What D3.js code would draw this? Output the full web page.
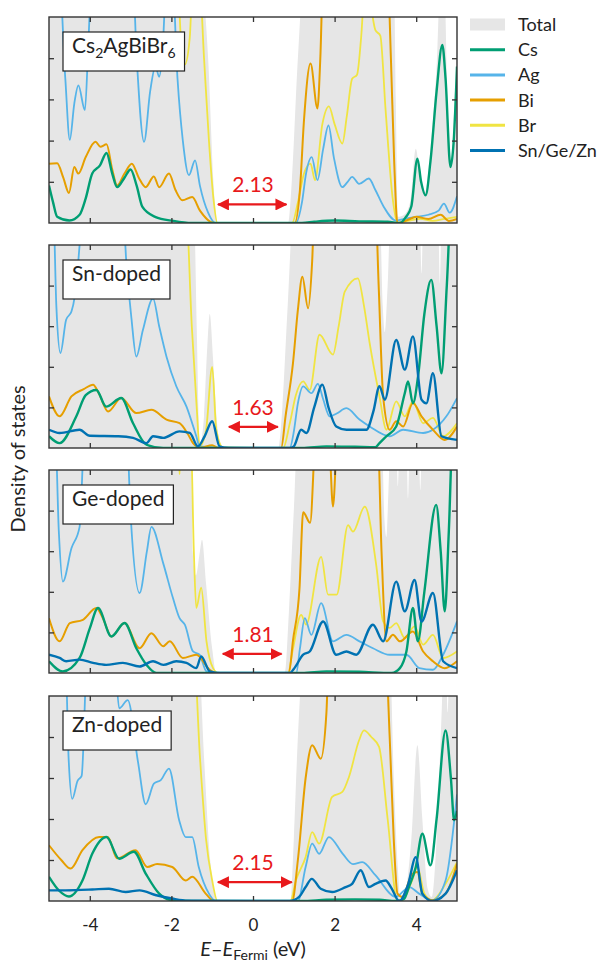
<!DOCTYPE html>
<html><head><meta charset="utf-8">
<script src="https://cdn.jsdelivr.net/npm/d3@7"></script>
<style>
body{margin:0;background:#fff}
svg{display:block}
text{font-family:Lato,"Open Sans",sans-serif;fill:#222}
</style>
</head><body>
<svg id="c" width="600" height="962"></svg>
<script>
// ---------- DATA (energy eV, DOS arbitrary units; values >5 run off the top) ----------
const xTicks = [-4, -2, 0, 2, 4];
const yTicks = [1, 2, 3, 4];
const legendNames = ["Total", "Cs", "Ag", "Bi", "Br", "Sn/Ge/Zn"];
const panelNames = ["Cs2AgBiBr6", "Sn-doped", "Ge-doped", "Zn-doped"];
const gapValues = ["2.13", "1.63", "1.81", "2.15"];
const gapStart = [-0.86, -0.59, -0.74, -0.86];
const gapEnd = [0.82, 0.61, 0.70, 0.95];
const gapLevel = [0.45, 0.52, 0.47, 0.46];

// Panel 1: pristine Cs2AgBiBr6
const tot1 = [[-5,6],[-1.3,6],[-1.1,4],[-0.97,1],[-0.88,0],[0.86,0],[0.95,1],[1.1,4],[1.25,6],[3.45,6],[3.5,3],[3.56,0.15],[3.7,0.2],[3.85,0.5],[3.99,1.8],[4.1,1.1],[4.22,0.75],[4.35,1.8],[4.5,3.8],[4.6,6],[4.68,6],[4.78,2.5],[4.86,1.5],[4.95,3.2],[5,4.2]];
const ag1 = [[-5,6],[-4.75,6],[-4.6,3.5],[-4.49,2.02],[-4.38,2.9],[-4.28,3.34],[-4.12,2.74],[-4.03,4.5],[-3.95,6],[-2.95,6],[-2.85,4],[-2.67,1.97],[-2.52,3.2],[-2.39,3.8],[-2.3,3.55],[-2.2,4.5],[-2.12,6],[-1.98,6],[-1.85,3.5],[-1.72,2],[-1.57,1.16],[-1.42,1.52],[-1.3,0.9],[-1.1,0.25],[-0.92,0],[1.05,0],[1.2,0.5],[1.3,1.2],[1.44,1.6],[1.58,1.04],[1.72,1.8],[1.85,2.37],[1.98,1.6],[2.19,0.87],[2.32,1.0],[2.43,1.12],[2.6,0.95],[2.84,1.08],[3.0,0.8],[3.2,0.4],[3.5,0.06],[3.8,0.12],[4.0,0.15],[4.3,0.2],[4.55,0.3],[4.68,0.47],[4.82,0.25],[5,0.65]];
const bi1 = [[-5,1.44],[-4.8,1.45],[-4.65,1.1],[-4.51,0.73],[-4.38,1.36],[-4.28,1.2],[-4.1,1.6],[-3.86,1.97],[-3.74,1.85],[-3.59,1.91],[-3.45,1.3],[-3.33,0.91],[-3.15,1.2],[-2.97,1.44],[-2.8,1.1],[-2.63,0.87],[-2.43,1.13],[-2.3,0.87],[-2.06,1.2],[-1.9,0.8],[-1.73,0.55],[-1.49,0.63],[-1.3,0.3],[-0.96,0],[1.02,0],[1.15,0.8],[1.25,2.5],[1.41,3.87],[1.58,2.78],[1.65,4],[1.72,6],[3.3,6],[3.38,4],[3.46,1.5],[3.54,0],[3.8,0.08],[4.0,0.15],[4.3,0.1],[4.6,0.2],[4.8,0.05],[5,0.1]];
const br1 = [[-5,6],[-1.85,6],[-1.77,4.5],[-1.67,3.85],[-1.55,4.5],[-1.47,6],[-1.32,6],[-1.2,4],[-1.08,2],[-0.97,0.6],[-0.87,0],[0.96,0],[1.1,0.5],[1.25,1.2],[1.41,1.44],[1.52,1.04],[1.7,2.4],[1.86,2.83],[2.0,2.4],[2.19,1.93],[2.3,2.6],[2.43,3.5],[2.55,3.6],[2.65,4.5],[2.76,6],[2.9,5.2],[3.0,4.68],[3.12,4.55],[3.25,2.74],[3.42,0.63],[3.54,0],[3.8,0.05],[4.1,0.1],[4.4,0.05],[4.7,0.1],[5,0.15]];
const cs1 = [[-5,0.91],[-4.9,0.5],[-4.8,0.15],[-4.5,0.06],[-4.25,0.2],[-4.1,0.6],[-3.94,1.2],[-3.75,1.4],[-3.59,1.7],[-3.45,1.2],[-3.33,0.87],[-3.15,1.1],[-3.0,1.3],[-2.85,0.9],[-2.71,0.39],[-2.4,0.15],[-1.95,0.05],[-1.5,0],[1.2,0],[1.5,0.03],[2.0,0.06],[2.6,0.04],[3.3,0.03],[3.6,0],[3.75,0.15],[3.88,0.4],[4.03,1.56],[4.12,1.0],[4.23,0.67],[4.35,1.5],[4.5,3.2],[4.64,4.32],[4.72,3.5],[4.84,1.36],[4.92,2.0],[5,3.8]];

// Panel 2: Sn-doped
const tot2 = [[-5,6],[-1.45,6],[-1.38,3],[-1.3,0.1],[-1.2,0.8],[-1.12,2.5],[-1.06,3.3],[-0.98,2.2],[-0.88,0.6],[-0.78,0],[0.62,0],[0.72,1],[0.85,3.5],[1.0,6],[3.1,6],[3.18,3.5],[3.23,2.85],[3.3,4],[3.38,6],[4.08,6],[4.13,4.3],[4.18,6],[4.53,6],[4.58,4.05],[4.63,6],[5,6]];
const ag2 = [[-5,6],[-4.9,6],[-4.82,3.5],[-4.72,2.34],[-4.58,3.16],[-4.45,3.36],[-4.37,3.73],[-4.25,5],[-4.18,6],[-3.2,6],[-3.1,4.5],[-2.98,3.2],[-2.86,2.25],[-2.7,2.9],[-2.45,3.68],[-2.3,3.0],[-2.12,2.25],[-1.88,1.52],[-1.63,1.02],[-1.39,0.29],[-1.31,0.04],[-1.0,0.02],[0.9,0],[1.0,0.4],[1.1,1.1],[1.23,1.52],[1.43,1.35],[1.59,1.58],[1.72,1.2],[1.88,0.78],[2.05,0.85],[2.29,0.98],[2.61,0.7],[2.86,0.53],[3.35,0.29],[3.68,0.45],[4.17,0.37],[4.41,0.45],[4.74,0.78],[5,1.23]];
const bi2 = [[-5,1.27],[-4.74,0.78],[-4.45,1.27],[-4.15,1.45],[-3.92,1.56],[-3.78,1.35],[-3.55,0.9],[-3.23,1.23],[-2.86,0.86],[-2.49,0.94],[-2.12,0.7],[-1.8,0.61],[-1.6,0.35],[-1.47,0.12],[-1.3,0.01],[-1.0,0.07],[-0.85,0],[0.69,0],[0.8,0.8],[0.98,2.09],[1.1,3.4],[1.21,4.22],[1.35,3.44],[1.45,4.6],[1.51,6],[3.0,6],[3.08,4],[3.19,1.27],[3.35,0.45],[3.51,0.66],[3.68,0.53],[3.92,1.11],[4.13,0.78],[4.41,0.45],[4.7,0.2],[5,0.53]];
const br2 = [[-5,6],[-1.65,6],[-1.5,3],[-1.38,1.0],[-1.31,0.04],[-1.15,0.45],[-1.0,2.0],[-0.9,0.45],[-0.74,0.02],[0.74,0],[0.9,0.6],[1.05,1.3],[1.23,1.64],[1.39,1.43],[1.63,2.79],[1.96,2.3],[2.1,3.0],[2.25,3.85],[2.57,4.18],[2.72,3.5],[2.86,2.58],[3.1,1.27],[3.27,0.45],[3.51,1.15],[3.72,0.78],[3.92,1.15],[4.17,0.61],[4.41,0.74],[4.66,0.29],[5,0.61]];
const cs2 = [[-5,0.29],[-4.74,0.12],[-4.33,0.78],[-4.1,1.3],[-3.84,1.43],[-3.6,1.02],[-3.23,1.23],[-2.94,0.61],[-2.61,0.08],[-2.2,0],[1.2,0],[1.8,0.04],[2.5,0.03],[3.0,0.02],[3.1,0.12],[3.27,0.29],[3.51,0.53],[3.72,1.35],[3.8,1.64],[3.92,1.1],[4.05,1.8],[4.2,3.3],[4.37,4.14],[4.5,3.0],[4.62,1.84],[4.75,4],[4.86,6],[5,6]];
const sn2 = [[-5,0.45],[-4.74,0.37],[-4.25,0.45],[-4.0,0.3],[-3.3,0.29],[-2.94,0.25],[-2.61,0.12],[-2.45,0.29],[-2.2,0.25],[-1.8,0.41],[-1.55,0.37],[-1.35,0.04],[-1.18,0.3],[-1.0,0.66],[-0.82,0.04],[-0.6,0],[0.9,0],[1.0,0.04],[1.18,0.45],[1.31,0.37],[1.5,1.0],[1.7,1.56],[1.85,1.0],[2.04,0.53],[2.29,0.45],[2.78,0.45],[2.95,0.9],[3.1,1.52],[3.23,1.19],[3.51,2.66],[3.72,1.93],[3.92,2.75],[4.13,1.19],[4.25,1.1],[4.41,1.84],[4.62,0.29],[5,0.2]];

// Panel 3: Ge-doped
const tot3 = [[-5,6],[-1.52,6],[-1.48,3],[-1.4,2.4],[-1.3,3.0],[-1.25,3.28],[-1.15,2.2],[-1.0,0.6],[-0.9,0],[0.78,0],[0.88,1.5],[1.0,4],[1.1,6],[3.15,6],[3.22,3.8],[3.27,3.35],[3.32,4.5],[3.38,6],[3.5,6],[3.55,4.6],[3.6,6],[3.75,6],[3.8,4.3],[3.85,6],[4.05,6],[4.1,4.5],[4.15,6],[5,6]];
const ag3 = [[-5,6],[-4.85,6],[-4.76,3.5],[-4.66,2.25],[-4.45,3.07],[-4.25,3.6],[-4.12,6],[-3.1,6],[-3.0,3.9],[-2.78,1.97],[-2.6,3.0],[-2.49,3.6],[-2.2,2.7],[-1.96,1.84],[-1.8,1.35],[-1.67,1.19],[-1.47,0.53],[-1.31,0.45],[-1.14,0.04],[-0.9,0],[1.06,0],[1.15,0.6],[1.27,1.35],[1.43,0.94],[1.67,1.72],[1.96,0.78],[2.29,0.94],[2.61,0.78],[2.94,0.61],[3.35,0.45],[3.76,0.45],[4.08,0.12],[4.41,0.08],[4.66,0.45],[5,1.27]];
const bi3 = [[-5,1.35],[-4.74,0.78],[-4.49,1.23],[-4.17,1.31],[-3.84,1.6],[-3.68,1.35],[-3.47,0.9],[-3.15,1.23],[-2.78,0.61],[-2.49,0.98],[-2.2,0.66],[-2.04,0.78],[-1.72,0.37],[-1.39,0.45],[-1.06,0.08],[-0.9,0],[0.88,0],[0.98,0.8],[1.14,2.09],[1.23,3.96],[1.4,3.7],[1.55,6],[1.85,6],[1.96,4.1],[2.08,6],[3.05,6],[3.15,3],[3.27,0.78],[3.43,0.94],[3.6,0.78],[3.92,1.02],[4.17,0.53],[4.41,0.29],[4.7,0.12],[5,0.29]];
const br3 = [[-5,6],[-1.85,6],[-1.8,4.9],[-1.75,6],[-1.53,6],[-1.45,3],[-1.39,1.6],[-1.27,2.1],[-1.14,0.78],[-0.98,0.12],[-0.85,0],[0.86,0],[0.98,0.6],[1.18,1.43],[1.3,1.19],[1.67,2.86],[1.84,1.93],[2.05,1.93],[2.33,3.64],[2.45,3.48],[2.74,4.1],[3.02,2.66],[3.19,1.27],[3.35,1.11],[3.51,1.23],[3.72,0.86],[3.96,1.15],[4.17,0.7],[4.41,0.94],[4.66,0.37],[5,0.53]];
const cs3 = [[-5,0.29],[-4.66,0.04],[-4.25,0.37],[-4.0,1.1],[-3.8,1.6],[-3.47,0.9],[-3.15,1.23],[-2.86,0.61],[-2.61,0.2],[-2.37,0],[1.2,0],[1.8,0.04],[2.6,0.03],[3.4,0],[3.6,0.12],[3.76,0.53],[3.92,1.6],[4.04,0.78],[4.2,2.0],[4.49,4.14],[4.6,3.0],[4.7,1.52],[4.8,3.5],[4.9,6],[5,6]];
const ge3 = [[-5,0.45],[-4.74,0.37],[-4.58,0.29],[-4.25,0.33],[-3.92,0.25],[-3.6,0.2],[-3.19,0.25],[-2.78,0.16],[-2.45,0.29],[-2.2,0.2],[-1.88,0.29],[-1.63,0.25],[-1.39,0.12],[-1.27,0.41],[-1.06,0.04],[-0.8,0],[0.9,0],[1.0,0.1],[1.23,0.45],[1.39,0.53],[1.72,1.27],[2.04,0.45],[2.29,0.53],[2.53,0.45],[2.94,1.19],[3.19,0.78],[3.51,2.25],[3.72,1.52],[3.96,2.29],[4.13,1.27],[4.41,1.97],[4.66,0.29],[5,0.12]];

// Panel 4: Zn-doped
const tot4 = [[-5,6],[-1.34,6],[-1.2,3.5],[-1.05,1],[-0.87,0],[0.92,0],[1.0,1.5],[1.1,4],[1.25,6],[3.35,6],[3.45,3],[3.55,0.8],[3.62,0],[3.75,0.3],[3.88,1.5],[4.03,3.8],[4.15,2.0],[4.28,0.3],[4.38,0.1],[4.5,1.5],[4.62,4.5],[4.68,6],[4.72,6],[4.77,4.6],[4.82,6],[5,6]];
const ag4 = [[-5,6],[-4.6,6],[-4.52,3.5],[-4.43,2.49],[-4.3,2.93],[-4.2,3.05],[-4.06,6],[-3.4,6],[-3.28,4.7],[-3.07,4.9],[-2.82,3.4],[-2.63,2.36],[-2.43,2.86],[-2.26,2.95],[-2.06,3.23],[-1.81,1.97],[-1.65,1.56],[-1.49,1.56],[-1.33,0.83],[-1.08,0.18],[-0.92,0],[1.1,0],[1.29,0.83],[1.45,1.4],[1.62,1.15],[1.86,1.56],[2.2,1.15],[2.45,0.9],[2.68,0.95],[3.0,0.63],[3.5,0.1],[3.83,0.34],[4.07,0.18],[4.4,0.02],[4.72,0.5],[5,2.6]];
const bi4 = [[-5,1.36],[-4.7,1.0],[-4.47,0.79],[-4.18,1.24],[-3.77,1.56],[-3.56,1.56],[-3.33,1.04],[-2.88,1.24],[-2.59,0.83],[-2.35,0.9],[-1.98,0.83],[-1.65,0.5],[-1.49,0.59],[-1.16,0.18],[-0.96,0],[0.96,0],[1.1,1.0],[1.29,3.0],[1.45,3.8],[1.66,3.47],[1.8,4.6],[1.86,6],[3.25,6],[3.35,4],[3.45,1.5],[3.54,0.18],[3.66,0.1],[3.9,0.66],[4.03,0.71],[4.15,0.18],[4.39,0.02],[4.72,0.18],[5,0.91]];
const br4 = [[-5,6],[-1.45,6],[-1.3,3.5],[-1.15,1.5],[-1.0,0.5],[-0.87,0],[0.92,0],[1.05,0.5],[1.29,1.07],[1.45,1.68],[1.62,1.4],[1.94,2.54],[2.19,2.66],[2.35,3.02],[2.6,3.92],[2.72,4.16],[2.9,4.0],[3.09,3.76],[3.3,2.0],[3.54,0],[3.66,0.02],[3.9,0.5],[4.03,0.83],[4.2,0.18],[4.39,0.02],[4.72,0.42],[5,0.95]];
const cs4 = [[-5,0.59],[-4.75,0.25],[-4.51,0.11],[-4.18,0.5],[-3.94,1.15],[-3.59,1.56],[-3.28,1.03],[-2.92,1.2],[-2.63,0.67],[-2.3,0.18],[-1.98,0.02],[-1.5,0],[1.2,0],[1.8,0.03],[2.5,0.04],[3.1,0.03],[3.5,0],[3.7,0.05],[3.82,0.34],[3.99,0.83],[4.15,1.64],[4.35,0.87],[4.5,2.0],[4.72,4.16],[4.85,3.0],[4.93,1.97],[5,2.2]];
const zn4 = [[-5,0.26],[-4.6,0.26],[-3.94,0.28],[-3.53,0.3],[-3.12,0.22],[-2.78,0.26],[-2.37,0.14],[-1.98,0.06],[-1.6,0.01],[0.9,0],[1.13,0.1],[1.29,0.34],[1.44,0.54],[1.66,0.3],[1.94,0.22],[2.27,0.34],[2.43,0.42],[2.64,0.75],[2.84,0.34],[3.0,0.42],[3.25,0.5],[3.4,0.3],[3.58,0],[3.8,0.4],[3.99,1.07],[4.15,0.18],[4.39,0],[4.72,0.18],[5,0.75]];

// ---------- LAYOUT ----------
const colors = {total:"#e6e6e6", cs:"#009e73", ag:"#56b4e9", bi:"#e69f00", br:"#f0e442", dop:"#0072b2"};
const panelTop = [17, 245, 470, 696];
const panelBottom = [223, 448, 673, 901];
const panels = [
  {total:tot1, ag:ag1, br:br1, bi:bi1, cs:cs1, dop:null},
  {total:tot2, ag:ag2, br:br2, bi:bi2, cs:cs2, dop:sn2},
  {total:tot3, ag:ag3, br:br3, bi:bi3, cs:cs3, dop:ge3},
  {total:tot4, ag:ag4, br:br4, bi:bi4, cs:cs4, dop:zn4}
];
const widths = {ag:1.8, br:1.8, bi:2, cs:2.4, dop:2.4};

const svg = d3.select("#c");
const x = d3.scaleLinear().domain([-5, 5]).range([49, 457]);
const red = "#e8191c";

const defs = svg.append("defs");
defs.append("marker").attr("id","ah").attr("viewBox","0 0 12 12").attr("refX",11).attr("refY",6)
  .attr("markerWidth",12).attr("markerHeight",12).attr("markerUnits","userSpaceOnUse")
  .attr("orient","auto-start-reverse")
  .append("path").attr("d","M0,0L12,6L0,12Z").attr("fill",red);

panels.forEach((p, i) => {
  const y = d3.scaleLinear().domain([0, 5]).range([panelBottom[i], panelTop[i]]);
  const g = svg.append("g");
  defs.append("clipPath").attr("id","clip"+i).append("rect")
    .attr("x", x(-5)).attr("y", y(5)).attr("width", x(5)-x(-5)).attr("height", y(0)-y(5));
  const plot = g.append("g").attr("clip-path", `url(#clip${i})`);
  const area = d3.area().x(d => x(d[0])).y0(y(0)).y1(d => y(d[1])).curve(d3.curveMonotoneX);
  const line = d3.line().x(d => x(d[0])).y(d => y(d[1])).curve(d3.curveMonotoneX);
  plot.append("path").datum(p.total).attr("d", area).attr("fill", colors.total);
  ["br","ag","bi","cs","dop"].forEach(k => {
    if (!p[k]) return;
    plot.append("path").datum(p[k]).attr("d", line).attr("fill","none")
      .attr("stroke", colors[k]).attr("stroke-width", widths[k]).attr("stroke-linejoin","round");
  });

  // axes with inward ticks
  const tickCol = "#333";
  const bottomAx = d3.axisBottom(x).tickValues(xTicks).tickSizeInner(-5).tickSizeOuter(0).tickPadding(18)
    .tickFormat(i === 3 ? (d => String(d)) : () => "");
  const topAx = d3.axisTop(x).tickValues(xTicks).tickSizeInner(-5).tickSizeOuter(0).tickFormat(() => "");
  const leftAx = d3.axisLeft(y).tickValues(yTicks).tickSizeInner(-5).tickSizeOuter(0).tickFormat(() => "");
  const rightAx = d3.axisRight(y).tickValues(yTicks).tickSizeInner(-5).tickSizeOuter(0).tickFormat(() => "");
  [[bottomAx, `translate(0,${y(0)})`], [topAx, `translate(0,${y(5)})`],
   [leftAx, `translate(${x(-5)},0)`], [rightAx, `translate(${x(5)},0)`]].forEach(([ax, t]) => {
    const a = g.append("g").attr("transform", t).call(ax);
    a.select(".domain").remove();
    a.selectAll(".tick line").attr("stroke", tickCol).attr("stroke-width", 1.3);
    a.selectAll(".tick text").attr("font-size", 17).attr("fill", "#222")
      .style("font-family", "Lato, 'Open Sans', sans-serif");
  });
  g.append("rect").attr("x", x(-5)).attr("y", y(5)).attr("width", x(5)-x(-5)).attr("height", y(0)-y(5))
    .attr("fill","none").attr("stroke","#333").attr("stroke-width",1.4);

  // panel label box
  const box = g.append("rect");
  const lbl = g.append("text").attr("x", 72).attr("y", panelTop[i] + 36).attr("font-size", 21);
  if (i === 0) {
    lbl.append("tspan").text("Cs");
    lbl.append("tspan").text("2").attr("font-size", 14).attr("dy", 5);
    lbl.append("tspan").text("AgBiBr").attr("dy", -5);
    lbl.append("tspan").text("6").attr("font-size", 14).attr("dy", 5);
  } else {
    lbl.text(panelNames[i]);
  }
  const bb = lbl.node().getBBox();
  box.attr("x", 63).attr("y", panelTop[i] + 15)
    .attr("width", bb.width + 18).attr("height", 39)
    .attr("fill", "#fff").attr("stroke", "#222").attr("stroke-width", 1.2);

  // band-gap arrow
  const ay = y(gapLevel[i]);
  g.append("line").attr("x1", x(gapStart[i])).attr("x2", x(gapEnd[i])).attr("y1", ay).attr("y2", ay)
    .attr("stroke", red).attr("stroke-width", 2.2)
    .attr("marker-start", "url(#ah)").attr("marker-end", "url(#ah)");
  g.append("text").attr("x", x(0)).attr("y", ay - 12)
    .attr("text-anchor", "middle").attr("font-size", 21).style("fill", red).text(gapValues[i]);
});

// y-axis label
svg.append("text").attr("transform", "translate(25,459) rotate(-90)").attr("text-anchor", "middle")
  .attr("font-size", 20).text("Density of states");

// x-axis label
const xl = svg.append("text").attr("x", x(0)).attr("y", 956).attr("text-anchor", "middle").attr("font-size", 20);
xl.append("tspan").text("E").attr("font-style", "italic");
xl.append("tspan").text("–");
xl.append("tspan").text("E").attr("font-style", "italic");
xl.append("tspan").text("Fermi").attr("font-size", 14).attr("dy", 4);
xl.append("tspan").text(" (eV)").attr("dy", -4);

// legend
const lg = svg.append("g");
legendNames.forEach((n, k) => {
  const ly = 24.5 + k * 25.2;
  if (k === 0) {
    lg.append("rect").attr("x", 470).attr("y", ly - 6).attr("width", 35).attr("height", 12).attr("fill", colors.total);
  } else {
    const key = ["cs","ag","bi","br","dop"][k-1];
    lg.append("line").attr("x1", 470).attr("x2", 505).attr("y1", ly).attr("y2", ly)
      .attr("stroke", colors[key]).attr("stroke-width", 3);
  }
  lg.append("text").attr("x", 518).attr("y", ly).attr("dy", "0.36em").attr("font-size", 18).text(n);
});
</script>
</body></html>
